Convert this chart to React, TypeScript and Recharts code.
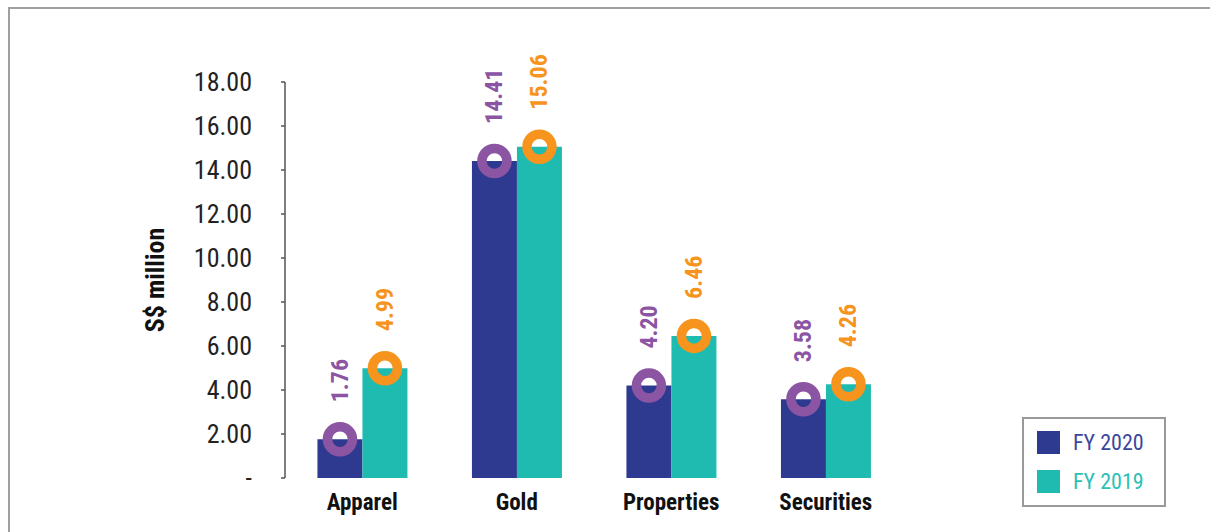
import { BarChart, Bar, XAxis, YAxis, Legend, LabelList } from 'recharts';

const categories = ['Apparel', 'Gold', 'Properties', 'Securities'];
const fy2020 = [1.76, 14.41, 4.2, 3.58];
const fy2019 = [4.99, 15.06, 6.46, 4.26];
const yTicks = [0, 2, 4, 6, 8, 10, 12, 14, 16, 18];
const edgeTicks = [0, 1, 2, 3, 4];

const data = categories.map((name, i) => ({ name, fy2020: fy2020[i], fy2019: fy2019[i] }));

const NARROW = "'Liberation Sans Narrow', 'Roboto Condensed', Roboto, sans-serif";

const BLUE = '#2e3990';
const TEAL = '#20bbb0';
const PURPLE = '#8c55a3';
const ORANGE = '#f7941d';

// ring on top of each bar plus the rotated value above it
const ringLabel = (color: string) => (props: any) => {
  const { x, y, width, value } = props;
  const cx = x + width / 2;
  const ty = y - 37;
  return (
    <g>
      <circle cx={cx} cy={y} r={12.5} fill="none" stroke={color} strokeWidth={9.5} />
      <text
        x={cx}
        y={ty}
        transform={`rotate(-90 ${cx} ${ty})`}
        textAnchor="start"
        dominantBaseline="central"
        fill={color}
        fontFamily={NARROW}
        fontWeight="bold"
        fontSize={24}
      >
        {Number(value).toFixed(2)}
      </text>
    </g>
  );
};

const LegendBox = () => (
  <div
    style={{
      width: 140,
      height: 86,
      border: '2px solid #999',
      background: '#fff',
      fontFamily: NARROW,
      fontSize: 22,
    }}
  >
    {[
      { label: 'FY 2020', color: BLUE, text: '#3b479c' },
      { label: 'FY 2019', color: TEAL, text: '#2cc0b5' },
    ].map((it, i) => (
      <div key={it.label} style={{ display: 'flex', alignItems: 'center', marginLeft: 13, marginTop: i === 0 ? 12 : 16 }}>
        <span style={{ display: 'inline-block', width: 23, height: 23, background: it.color }} />
        <span style={{ marginLeft: 13, color: it.text, lineHeight: '23px' }}>{it.label}</span>
      </div>
    ))}
  </div>
);

export default function App() {
  return (
    <div style={{ position: 'absolute', left: 0, top: 0, width: 1210, height: 532, overflow: 'hidden', background: '#fff' }}>
      <div
        style={{
          position: 'absolute',
          left: 8,
          top: 7,
          width: 1400,
          height: 700,
          borderTop: '2px solid #a0a0a0',
          borderLeft: '2px solid #a0a0a0',
        }}
      />
      <div style={{ position: 'absolute', left: 0, top: 0 }}>
        <BarChart
          width={1210}
          height={532}
          data={data}
          margin={{ top: 82, right: 307, bottom: 0, left: 25 }}
          barCategoryGap="21%"
          barGap={0}
        >
          <XAxis
            xAxisId="edge"
            type="number"
            domain={[0, 4]}
            ticks={edgeTicks}
            height={0}
            axisLine={{ stroke: '#555', strokeWidth: 1.5 }}
            tickLine={{ stroke: '#555', strokeWidth: 1.5 }}
            tickSize={5}
            tickFormatter={() => ''}
          />
          <XAxis
            dataKey="name"
            height={54}
            axisLine={false}
            tickLine={false}
            tickMargin={10}
            tick={{ fill: '#111', fontFamily: NARROW, fontWeight: 'bold', fontSize: 23 }}
          />
          <YAxis
            width={260}
            domain={[0, 18]}
            ticks={yTicks}
            axisLine={{ stroke: '#555', strokeWidth: 1.5 }}
            tickLine={{ stroke: '#555', strokeWidth: 1.5 }}
            tickSize={4}
            tickMargin={29}
            tickFormatter={(v: number) => (v === 0 ? '-' : v.toFixed(2))}
            tick={{ fill: '#222', fontFamily: NARROW, fontSize: 26 }}
            label={{
              value: 'S$ million',
              angle: -90,
              position: 'center',
              fill: '#111',
              fontFamily: NARROW,
              fontWeight: 'bold',
              fontSize: 26,
            }}
          />
          <Legend
            layout="vertical"
            verticalAlign="middle"
            align="center"
            wrapperStyle={{ left: 1022, top: 417, width: 'auto' }}
            content={<LegendBox />}
          />
          <Bar dataKey="fy2020" name="FY 2020" fill={BLUE} isAnimationActive={false}>
            <LabelList dataKey="fy2020" content={ringLabel(PURPLE)} />
          </Bar>
          <Bar dataKey="fy2019" name="FY 2019" fill={TEAL} isAnimationActive={false}>
            <LabelList dataKey="fy2019" content={ringLabel(ORANGE)} />
          </Bar>
        </BarChart>
      </div>
    </div>
  );
}
